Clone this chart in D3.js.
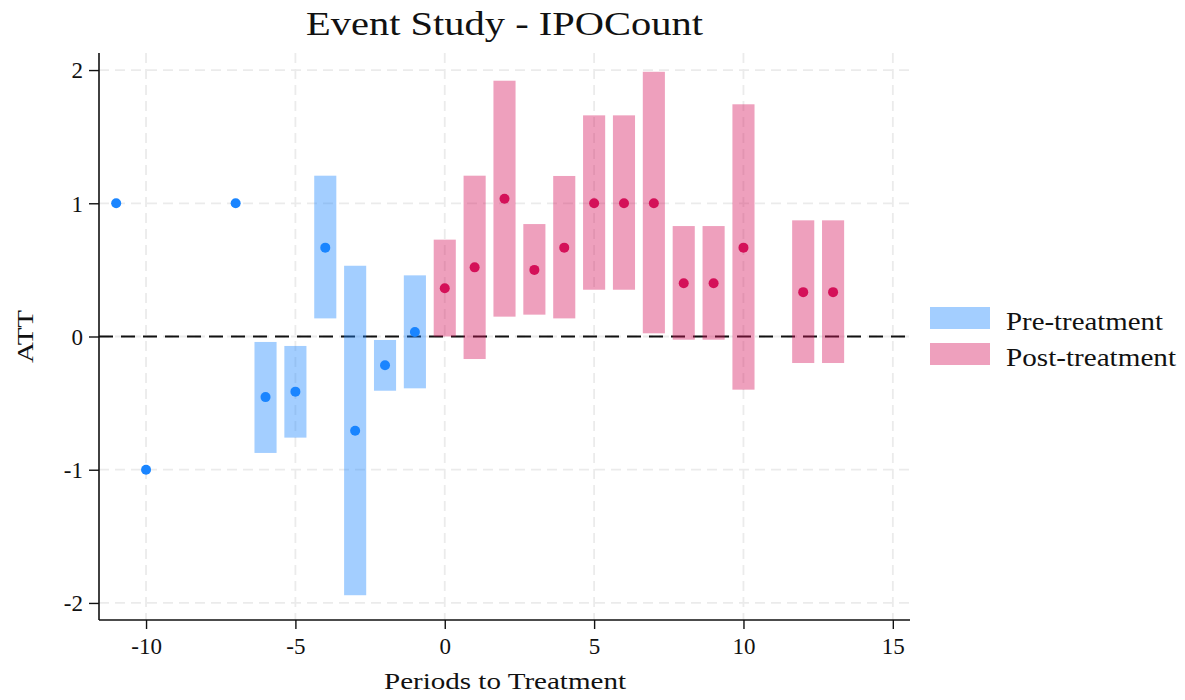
<!DOCTYPE html>
<html><head><meta charset="utf-8">
<script src="https://cdn.jsdelivr.net/npm/d3@7"></script>
<style>body{margin:0;background:#fff}svg{display:block}text{font-family:"Liberation Serif","DejaVu Serif",serif;fill:#111}</style>
</head><body><svg id="c" width="1185" height="700"></svg>
<script>
// Pre-treatment estimates
const prePeriods = [-11, -10, -7, -6, -5, -4, -3, -2, -1];
const preATT     = [1, -1, 1, -0.455, -0.414, 0.667, -0.707, -0.216, 0.034];
const preLow     = [null, null, null, -0.874, -0.759, 0.136, -1.942, -0.407, -0.389];
const preHigh    = [null, null, null, -0.041, -0.071, 1.207, 0.531, -0.026, 0.459];
// Post-treatment estimates
const postPeriods = [0, 1, 2, 3, 4, 5, 6, 7, 8, 9, 10, 12, 13];
const postATT     = [0.362, 0.519, 1.034, 0.5, 0.667, 1.0, 1.0, 1.0, 0.4, 0.4, 0.667, 0.333, 0.333];
const postLow     = [0.0, -0.169, 0.149, 0.164, 0.136, 0.351, 0.351, 0.024, -0.024, -0.024, -0.399, -0.199, -0.199];
const postHigh    = [0.727, 1.207, 1.92, 0.844, 1.205, 1.66, 1.66, 1.987, 0.829, 0.829, 1.743, 0.872, 0.872];
const xTicks = [-10, -5, 0, 5, 10, 15];
const yTicks = [-2, -1, 0, 1, 2];
const legendLabels = ["Pre-treatment", "Post-treatment"];

const svg = d3.select("#c");
const L = 99, R = 910, T = 53, B = 620;
const x = d3.scaleLinear().domain([-11.575, 15.575]).range([L, R]);
const y = d3.scaleLinear().domain([-2.128, 2.128]).range([B, T]);
const bw = x(0.74) - x(0);

const blue = "#1A85FF", pink = "#D41159";
const fmt = d => String(d);

// grid
const g = svg.append("g");
g.selectAll(".gx").data(xTicks).join("line")
  .attr("x1", d => x(d)).attr("x2", d => x(d)).attr("y1", T).attr("y2", B)
  .attr("stroke", "#ebebeb").attr("stroke-width", 1.8).attr("stroke-dasharray", "10,6");
g.selectAll(".gy").data(yTicks).join("line")
  .attr("x1", L).attr("x2", R).attr("y1", d => y(d)).attr("y2", d => y(d))
  .attr("stroke", "#ebebeb").attr("stroke-width", 1.8).attr("stroke-dasharray", "10,6");

// zero line
svg.append("line").attr("x1", L).attr("x2", R).attr("y1", y(0)).attr("y2", y(0))
  .attr("stroke", "#111").attr("stroke-width", 2).attr("stroke-dasharray", "14,8");

function series(periods, att, lo, hi, col) {
  const data = periods.map((p, i) => ({p, a: att[i], lo: lo[i], hi: hi[i]}));
  svg.append("g").selectAll("rect").data(data.filter(d => d.lo !== null)).join("rect")
    .attr("x", d => x(d.p) - bw / 2).attr("width", bw)
    .attr("y", d => y(d.hi)).attr("height", d => y(d.lo) - y(d.hi))
    .attr("fill", col).attr("fill-opacity", 0.4);
  svg.append("g").selectAll("circle").data(data).join("circle")
    .attr("cx", d => x(d.p)).attr("cy", d => y(d.a)).attr("r", 5).attr("fill", col);
}
series(prePeriods, preATT, preLow, preHigh, blue);
series(postPeriods, postATT, postLow, postHigh, pink);

// axes
const ax = svg.append("g").attr("transform", `translate(0,${B})`)
  .call(d3.axisBottom(x).tickValues(xTicks).tickSize(9).tickPadding(9).tickFormat(fmt));
const ay = svg.append("g").attr("transform", `translate(${L},0)`)
  .call(d3.axisLeft(y).tickValues(yTicks).tickSize(10).tickPadding(6).tickFormat(fmt));
[ax, ay].forEach(a => {
  a.select(".domain").attr("stroke", "#111").attr("stroke-width", 1.6);
  a.selectAll(".tick line").attr("stroke", "#111").attr("stroke-width", 1.4);
  a.selectAll(".tick text").attr("font-size", 23).attr("fill", "#111")
    .style("font-family", '"Liberation Serif","DejaVu Serif",serif');
});
ay.selectAll(".tick text").attr("dy", "0.34em");
ax.select(".domain").attr("d", `M${L},0H${R}`);
ay.select(".domain").attr("d", `M0,${T}V${B}`);

// labels
svg.append("text").attr("x", 306).attr("y", 35)
  .attr("font-size", 33).attr("textLength", 397).attr("lengthAdjust", "spacingAndGlyphs").text("Event Study - IPOCount");
svg.append("text").attr("x", 384).attr("y", 689)
  .attr("font-size", 24).attr("textLength", 242).attr("lengthAdjust", "spacingAndGlyphs").text("Periods to Treatment");
svg.append("text").attr("transform", "translate(33,363) rotate(-90)")
  .attr("font-size", 24).attr("textLength", 53).attr("lengthAdjust", "spacingAndGlyphs").text("ATT");

// legend
const lg = svg.append("g");
const legW = [157, 170];
[blue, pink].forEach((c, i) => {
  lg.append("rect").attr("x", 930).attr("y", 307 + i * 36).attr("width", 60).attr("height", 22)
    .attr("fill", c).attr("fill-opacity", 0.4);
  lg.append("text").attr("x", 1006).attr("y", 330 + i * 36).attr("font-size", 25)
    .attr("textLength", legW[i]).attr("lengthAdjust", "spacingAndGlyphs").text(legendLabels[i]);
});
</script></body></html>
